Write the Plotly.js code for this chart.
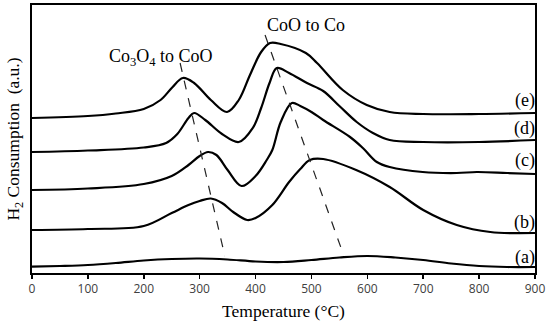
<!DOCTYPE html>
<html>
<head>
<meta charset="utf-8">
<script src="https://cdn.plot.ly/plotly-3.0.1.min.js"></script>
<style>html,body{margin:0;padding:0;background:#fff}#chart{width:550px;height:330px}</style>
</head>
<body>
<div id="chart"></div>
<script>
// Temperature (°C) sample points and H2 consumption (a.u.) for each sample
const tempA = [0,50,100,150,200,250,300,350,400,450,500,550,600,650,700,750,800,850,900];
const consA = [6.3,7,8,10,12.5,14,14.5,13.5,11.5,11,13,15.5,17,15.5,13,9.5,7,6,6];

const tempB = [0,100,200,250,280,300,320,340,360,385,400,430,460,480,497,521,580,640,700,760,820,900];
const consB = [43,44,47,60,68,72,74.5,70,61,53,55,68,91,104,113,114,103,86,63,48,41,40];

const tempC = [0,100,200,250,280,300,315,330,350,375,400,420,430,445,465,480,500,521,569,592,617,640,699,760,796,850,900];
const consC = [83,84.5,89,97,108,117,121,118,103,87,97,113,123,151,170,167,161,153,136,125,111,106,101,100,101,100,99];

const tempD = [0,100,200,240,260,280,290,310,340,370,395,410,425,438,460,492,521,550,581,610,640,700,800,900];
const consD = [121,122.5,125.5,130,139,155,160,153,139,131,145,165,190,205,200,190,182,167,151,140,133,131,131,133];

const tempE = [0,100,150,200,230,250,270,290,320,349,370,390,410,426,445,490,510,556,599,640,700,800,900];
const consE = [155,157,159.5,164,173,185,195,190,173,161,173,198,221,230,229,220,210,183,168,161,159,159,160];

// guide lines through peak maxima
const guide1X = [265, 345];
const guide1Y = [210, 17];
const guide2X = [417, 553];
const guide2Y = [238, 25];

const sampleLabels = ['(a)','(b)','(c)','(d)','(e)'];
const labelX = 882;
const labelY = [16, 51, 113, 145, 173];

const peakLabels = ['Co<sub>3</sub>O<sub>4</sub> to CoO', 'CoO to Co'];
const peakLabelX = [230, 490];
const peakLabelY = [216, 248];

const xTicks = [0,100,200,300,400,500,600,700,800,900];

const curveLine = {color:'#000', width:2.2, shape:'spline', smoothing:1};
const series = [[tempA,consA],[tempB,consB],[tempC,consC],[tempD,consD],[tempE,consE]];
const traces = series.map((s,i)=>({x:s[0], y:s[1], mode:'lines', line:curveLine, name:sampleLabels[i], hoverinfo:'skip'}));
traces.push({x:guide1X, y:guide1Y, mode:'lines', line:{color:'#222', width:1.2, dash:'dash'}, hoverinfo:'skip'});
traces.push({x:guide2X, y:guide2Y, mode:'lines', line:{color:'#222', width:1.2, dash:'dash'}, hoverinfo:'skip'});

const serif = 'Liberation Serif, Times New Roman, serif';
const annotations = [];
sampleLabels.forEach((t,i)=>annotations.push({x:labelX, y:labelY[i], text:t, showarrow:false, font:{family:serif, size:18, color:'#000'}}));
peakLabels.forEach((t,i)=>annotations.push({x:peakLabelX[i], y:peakLabelY[i], text:t, showarrow:false, font:{family:serif, size:18, color:'#000'}}));

const layout = {
  width:550, height:330,
  margin:{l:32, r:15, t:5, b:57},
  paper_bgcolor:'#fff', plot_bgcolor:'#fff',
  showlegend:false,
  xaxis:{range:[0,900], tickvals:xTicks, ticktext:xTicks.map(String), ticks:'outside', ticklen:4, tickwidth:1.5, tickcolor:'#000',
    showline:true, mirror:true, linecolor:'#000', linewidth:2, showgrid:false, zeroline:false,
    tickfont:{family:'Open Sans, sans-serif', size:12, color:'#404040'},
    title:{text:'Temperature (°C)', font:{family:serif, size:17.5, color:'#000'}, standoff:8}},
  yaxis:{range:[0,268], showticklabels:false, ticks:'', showline:true, mirror:true, linecolor:'#000', linewidth:2,
    showgrid:false, zeroline:false,
    title:{text:'H<sub>2</sub> Consumption  (a.u.)', font:{family:serif, size:17.5, color:'#000'}, standoff:6}},
  annotations:annotations
};
Plotly.newPlot('chart', traces, layout, {staticPlot:true, displayModeBar:false});
</script>
</body>
</html>
